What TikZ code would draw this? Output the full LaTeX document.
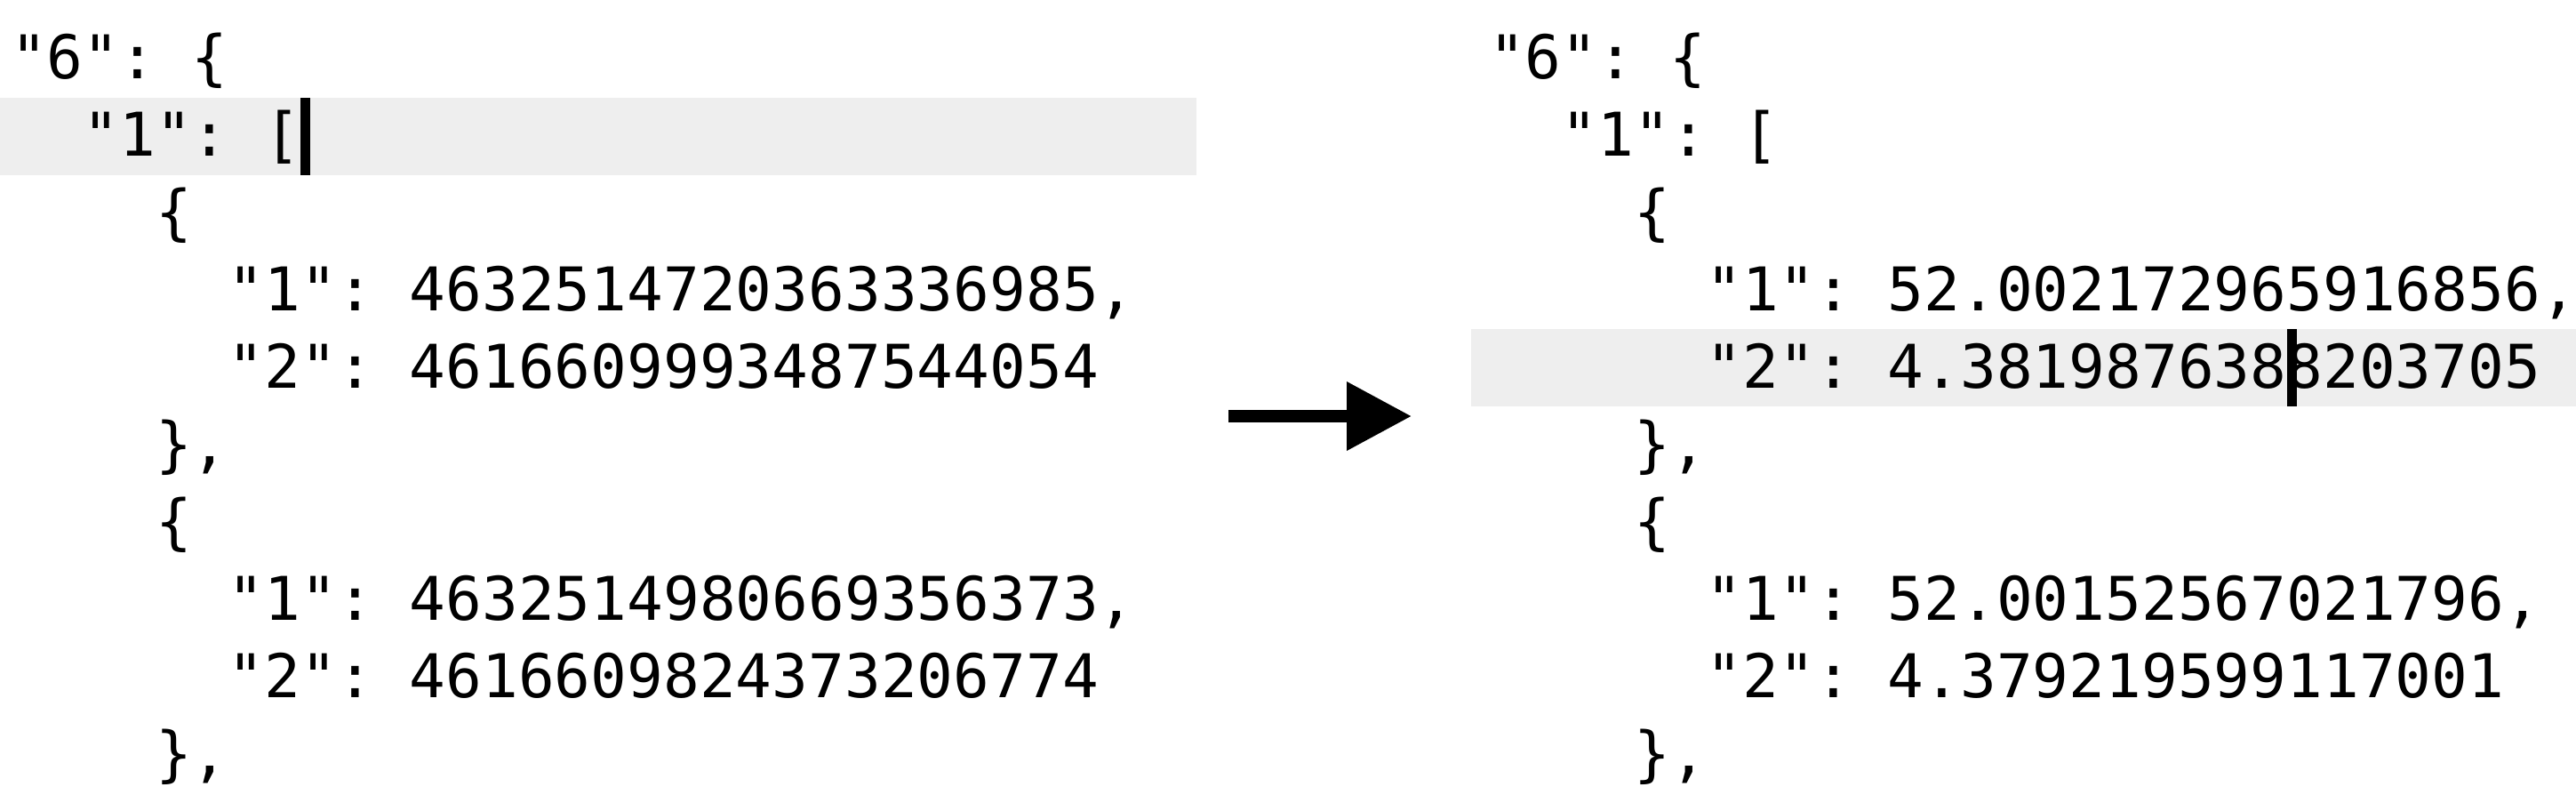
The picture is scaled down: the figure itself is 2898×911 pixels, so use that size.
\documentclass[tikz,border=0pt]{standalone}
\usepackage{fontspec}
\newfontfamily\codefont{DejaVu Sans Mono}
\usetikzlibrary{arrows.meta}
\definecolor{bandgray}{RGB}{238,238,238}
\begin{document}
\begin{tikzpicture}[x=0.25pt,y=-0.25pt,
  codeline/.style={anchor=base west,inner sep=0pt,outer sep=0pt,font=\codefont\fontsize{16.94}{20}\selectfont\frenchspacing,text=black},
  band/.style={fill=bandgray,draw=none},
  cursor/.style={fill=black,draw=none}]
\useasboundingbox (0,0) rectangle (2898,911);
% highlighted lines
\fill[band] (0,110) rectangle (1346,197);
\fill[band] (1655,370) rectangle (2898,457);
% left block
\node[codeline] (l1) at (12,88) {"6": \{};
\node[codeline] (l2) at (93.6,175.1) {"1": [};
\node[codeline] (l3) at (175.2,262.2) {\{};
\node[codeline] (l4) at (256.8,349.3) {"1": 4632514720363336985,};
\node[codeline] (l5) at (256.8,436.4) {"2": 4616609993487544054};
\node[codeline] (l6) at (175.2,523.5) {\},};
\node[codeline] (l7) at (175.2,610.6) {\{};
\node[codeline] (l8) at (256.8,697.7) {"1": 4632514980669356373,};
\node[codeline] (l9) at (256.8,784.8) {"2": 4616609824373206774};
\node[codeline] (l10) at (175.2,871.9) {\},};
% right block
\node[codeline] (r1) at (1675,88) {"6": \{};
\node[codeline] (r2) at (1756.6,175.1) {"1": [};
\node[codeline] (r3) at (1838.2,262.2) {\{};
\node[codeline] (r4) at (1919.8,349.3) {"1": 52.002172965916856,};
\node[codeline] (r5) at (1919.8,436.4) {"2": 4.3819876388203705};
\node[codeline] (r6) at (1838.2,523.5) {\},};
\node[codeline] (r7) at (1838.2,610.6) {\{};
\node[codeline] (r8) at (1919.8,697.7) {"1": 52.00152567021796,};
\node[codeline] (r9) at (1919.8,784.8) {"2": 4.379219599117001};
\node[codeline] (r10) at (1838.2,871.9) {\},};
% cursors
\fill[cursor] (338,110) rectangle (349,197);
\fill[cursor] (2573,370) rectangle (2584,457);
% arrow
\coordinate (as) at (1382,468);
\coordinate (ae) at (1588,468);
\draw[line width=3.5pt,line cap=butt,-{Triangle[length=18.25pt,width=18.5pt]}] (as) -- (ae);
\end{tikzpicture}
\end{document}
